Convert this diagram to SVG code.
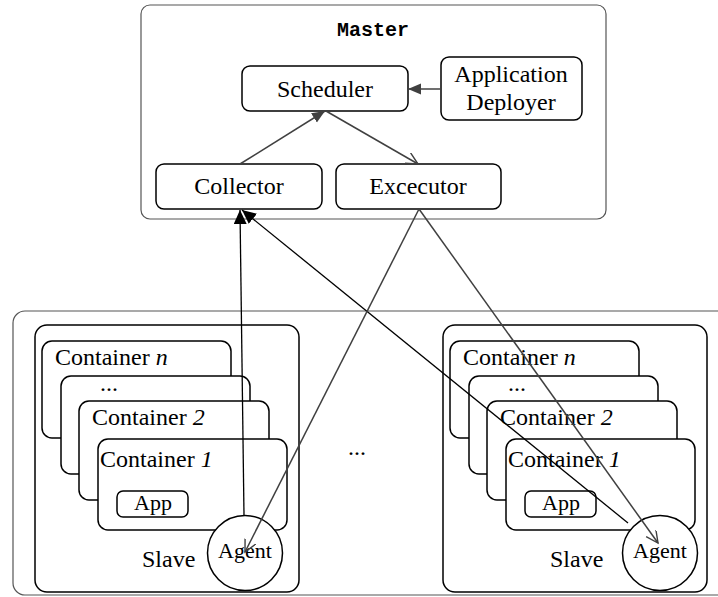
<svg xmlns="http://www.w3.org/2000/svg" width="718" height="597" viewBox="0 0 718 597">
<defs>
<style>
.t{font-family:"Liberation Serif","Times New Roman",serif;font-size:24px;fill:#000}
.c{text-anchor:middle}
.i{font-style:italic}
.box{fill:#fff;stroke:#000;stroke-width:1.5}
.frame{fill:none;stroke:#555;stroke-width:1.2}
.ln{fill:none;stroke:#404040;stroke-width:1.5}
.lk{fill:none;stroke:#000;stroke-width:1.3}
</style>
<marker id="fa" markerUnits="userSpaceOnUse" markerWidth="14" markerHeight="12" refX="13" refY="5.5" orient="auto"><path d="M0,0 L13,5.5 L0,11 z" fill="#404040"/></marker>
<marker id="fk" markerUnits="userSpaceOnUse" markerWidth="16" markerHeight="14" refX="14" refY="6.5" orient="auto"><path d="M0,0 L14,6.5 L0,13 z" fill="#000"/></marker>
<marker id="oa" markerUnits="userSpaceOnUse" markerWidth="14" markerHeight="14" refX="12" refY="6" orient="auto"><path d="M0,0 L12,6 L0,12" fill="none" stroke="#404040" stroke-width="1.4"/></marker>
</defs>

<g id="master">
<rect class="frame" x="141" y="5" width="465" height="214" rx="9"/>
<text x="373" y="36" text-anchor="middle" font-family="Liberation Mono, Courier New, monospace" font-size="20" font-weight="bold">Master</text>
</g>
<g id="scheduler"><rect class="box" x="242" y="66" width="166" height="45" rx="8"/><text class="t c" x="325" y="97">Scheduler</text></g>
<g id="deployer"><rect class="box" x="441" y="57" width="141" height="63" rx="8"/><text class="t c" x="511" y="82">Application</text><text class="t c" x="511" y="110">Deployer</text></g>
<g id="collector"><rect class="box" x="156" y="164" width="166" height="45" rx="8"/><text class="t c" x="239" y="194">Collector</text></g>
<g id="executor"><rect class="box" x="336" y="164" width="165" height="45" rx="8"/><text class="t c" x="418" y="194">Excecutor</text></g>

<g id="cluster"><rect class="frame" x="13" y="311" width="720" height="284" rx="12"/></g>

<g id="slave-left">
<rect class="box" x="35" y="325" width="264" height="267" rx="12"/>
<rect class="box" x="42" y="341" width="189" height="97" rx="10"/>
<text class="t" x="55" y="365">Container <tspan class="i">n</tspan></text>
<rect class="box" x="61" y="376" width="189" height="98" rx="10"/>
<text class="t" x="100" y="391">...</text>
<rect class="box" x="79" y="401" width="190" height="99" rx="10"/>
<text class="t" x="92" y="425">Container <tspan class="i">2</tspan></text>
<rect class="box" x="98" y="439" width="189" height="91" rx="10"/>
<text class="t" x="100" y="467">Container <tspan class="i">1</tspan></text>
<rect class="box" x="117" y="491" width="71" height="26" rx="6"/>
<text class="t c" x="153" y="510" style="font-size:22px">App</text>
<text class="t" x="142" y="567">Slave</text>
<circle class="box" cx="245" cy="553" r="37.5"/>
<text class="t c" x="245" y="558" style="font-size:22px">Agent</text>
</g>

<g id="slave-right">
<rect class="box" x="443" y="325" width="264" height="267" rx="12"/>
<rect class="box" x="450" y="341" width="189" height="97" rx="10"/>
<text class="t" x="463" y="365">Container <tspan class="i">n</tspan></text>
<rect class="box" x="469" y="376" width="189" height="98" rx="10"/>
<text class="t" x="508" y="391">...</text>
<rect class="box" x="487" y="401" width="190" height="99" rx="10"/>
<text class="t" x="500" y="425">Container <tspan class="i">2</tspan></text>
<rect class="box" x="506" y="439" width="189" height="91" rx="10"/>
<text class="t" x="508" y="467">Container <tspan class="i">1</tspan></text>
<rect class="box" x="525" y="491" width="71" height="26" rx="6"/>
<text class="t c" x="561" y="510" style="font-size:22px">App</text>
<text class="t" x="550" y="567">Slave</text>
<circle class="box" cx="660" cy="553" r="37.5"/>
<text class="t c" x="660" y="558" style="font-size:22px">Agent</text>
</g>

<text class="t" x="348" y="455">...</text>

<g id="connectors">
<line class="ln" x1="441" y1="89" x2="408" y2="89" marker-end="url(#fa)"/>
<line class="ln" x1="240" y1="164" x2="325" y2="111" marker-end="url(#fa)"/>
<line class="ln" x1="326" y1="111" x2="418" y2="164" marker-end="url(#oa)"/>
<line class="lk" x1="244" y1="515" x2="240" y2="210" marker-end="url(#fk)"/>
<line class="lk" x1="628" y1="523" x2="242" y2="210" marker-end="url(#fk)"/>
<line class="ln" x1="419" y1="209" x2="245" y2="552" marker-end="url(#oa)"/>
<line class="ln" x1="419" y1="209" x2="658" y2="543" marker-end="url(#oa)"/>
</g>
</svg>
